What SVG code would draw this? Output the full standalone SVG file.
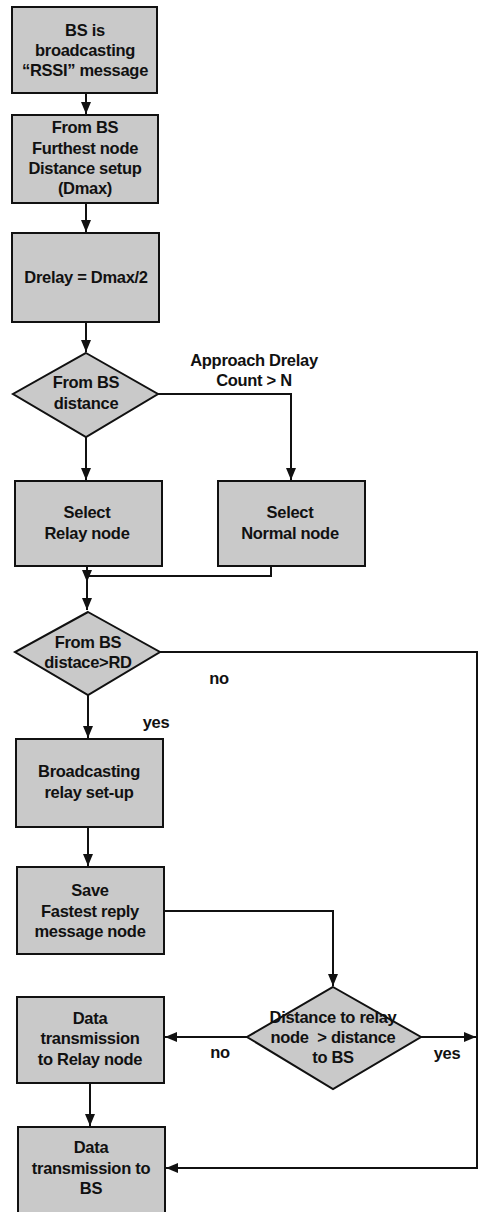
<svg xmlns="http://www.w3.org/2000/svg" width="482" height="1212" viewBox="0 0 482 1212">
<style>
.n{fill:#c9c9c9;stroke:#111;stroke-width:2}
.t{font-family:"Liberation Sans",Arial,sans-serif;font-weight:bold;font-size:16.5px;fill:#111;text-anchor:middle;letter-spacing:-0.3px}
.e{fill:none;stroke:#111;stroke-width:2}
</style>
<defs>
<marker id="a" viewBox="0 0 12 10" refX="12" refY="5" markerWidth="6" markerHeight="5" orient="auto" markerUnits="strokeWidth">
<path d="M0,0L12,5L0,10z" fill="#111"/>
</marker>
</defs>
<rect width="482" height="1212" fill="#fff"/>
<g id="connectors">
<path class="e" d="M86,93V114" marker-end="url(#a)"/>
<path class="e" d="M86,203V232" marker-end="url(#a)"/>
<path class="e" d="M86,322V352" marker-end="url(#a)"/>
<path class="e" d="M158,394H291V480" marker-end="url(#a)"/>
<path class="e" d="M86,437V480" marker-end="url(#a)"/>
<path class="e" d="M87,566V582" marker-end="url(#a)"/>
<path class="e" d="M271,566V576H87"/>
<path class="e" d="M87,576V610" marker-end="url(#a)"/>
<path class="e" d="M160,652H477V1168H166" marker-end="url(#a)"/>
<path class="e" d="M88,695V738" marker-end="url(#a)"/>
<path class="e" d="M88,827V866" marker-end="url(#a)"/>
<path class="e" d="M164,911H333V986" marker-end="url(#a)"/>
<path class="e" d="M247,1037H165" marker-end="url(#a)"/>
<path class="e" d="M421,1037H476" marker-end="url(#a)"/>
<path class="e" d="M90,1083V1126" marker-end="url(#a)"/>
<text class="t" x="254" y="366">Approach Drelay</text>
<text class="t" x="254" y="386">Count &gt; N</text>
<text class="t" x="219" y="684">no</text>
<text class="t" x="156" y="728">yes</text>
<text class="t" x="220" y="1058">no</text>
<text class="t" x="447" y="1059">yes</text>
</g>
<g id="n1"><rect class="n" x="12" y="7" width="145" height="86"/>
<text class="t" x="85" y="36">BS is</text><text class="t" x="85" y="56">broadcasting</text><text class="t" x="85" y="76">“RSSI” message</text></g>
<g id="n2"><rect class="n" x="12" y="115" width="146" height="88"/>
<text class="t" x="85" y="133">From BS</text><text class="t" x="85" y="154">Furthest node</text><text class="t" x="85" y="174">Distance setup</text><text class="t" x="85" y="194">(Dmax)</text></g>
<g id="n3"><rect class="n" x="12" y="233" width="147" height="89"/>
<text class="t" x="86" y="283">Drelay = Dmax/2</text></g>
<g id="d1"><polygon class="n" points="86,353 158,394 86,437 13,394"/>
<text class="t" x="86" y="388">From BS</text><text class="t" x="86" y="409">distance</text></g>
<g id="n4"><rect class="n" x="15" y="481" width="147" height="85"/>
<text class="t" x="87" y="518">Select</text><text class="t" x="87" y="539">Relay node</text></g>
<g id="n5"><rect class="n" x="218" y="481" width="147" height="85"/>
<text class="t" x="290" y="518">Select</text><text class="t" x="290" y="539">Normal node</text></g>
<g id="d2"><polygon class="n" points="88,612 160,652 88,695 15,652"/>
<text class="t" x="88" y="648">From BS</text><text class="t" x="88" y="668">distace&gt;RD</text></g>
<g id="n6"><rect class="n" x="16" y="739" width="147" height="88"/>
<text class="t" x="89" y="777">Broadcasting</text><text class="t" x="89" y="798">relay set-up</text></g>
<g id="n7"><rect class="n" x="17" y="867" width="147" height="87"/>
<text class="t" x="90" y="896">Save</text><text class="t" x="90" y="917">Fastest reply</text><text class="t" x="90" y="937">message node</text></g>
<g id="d3"><polygon class="n" points="333,987 421,1037 333,1089 247,1037"/>
<text class="t" x="333" y="1023">Distance to relay</text><text class="t" x="333" y="1043" xml:space="preserve">node  &gt; distance</text><text class="t" x="333" y="1063">to BS</text></g>
<g id="n8"><rect class="n" x="17" y="997" width="147" height="86"/>
<text class="t" x="90" y="1024">Data</text><text class="t" x="90" y="1044">transmission</text><text class="t" x="90" y="1065">to Relay node</text></g>
<g id="n9"><rect class="n" x="18" y="1127" width="147" height="90"/>
<text class="t" x="91" y="1153">Data</text><text class="t" x="91" y="1174">transmission to</text><text class="t" x="91" y="1194">BS</text></g>
</svg>
